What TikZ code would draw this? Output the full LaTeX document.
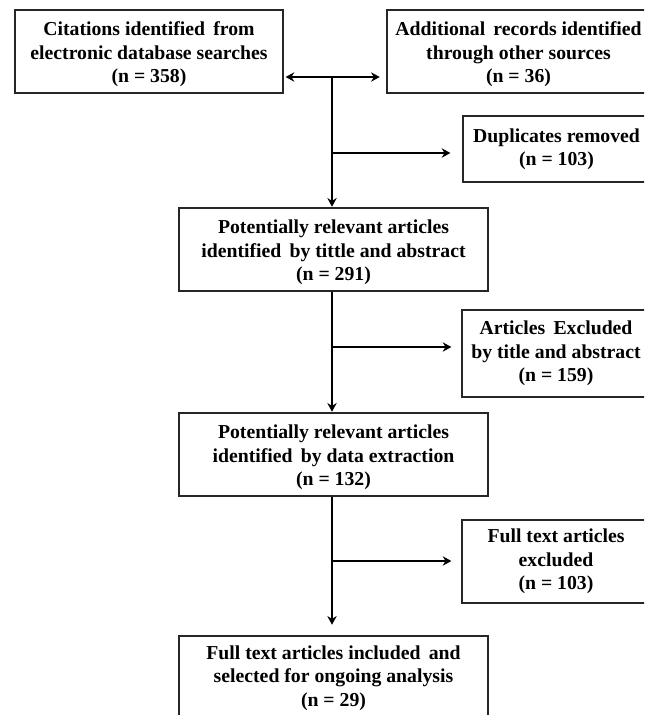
\documentclass[tikz,border=0pt]{standalone}
\usepackage{fontspec}
\setmainfont{Liberation Serif}
\usetikzlibrary{arrows.meta}
\newcommand{\myup}{\rule{0pt}{14.8pt}}
\begin{document}
\begin{tikzpicture}[x=0.75pt,y=-0.75pt,
  box/.style={draw=black!85, line width=0.9pt, inner sep=0pt, align=center,
    font=\fontsize{14.8}{17.6}\selectfont\bfseries},
  conn/.style={line width=2pt, black},
  arr/.style={conn, -{Stealth[length=6.5pt,width=7pt]}}]
\useasboundingbox (0,0) rectangle (644,715);
\clip (0,0) rectangle (644,715);
\node[box, minimum width=201pt, minimum height=62.25pt] (A) at (149,51.5)
  {\myup Citations identified\, from\\electronic database searches\\(n = 358)};
\node[box, minimum width=197.25pt, minimum height=62.25pt] (B) at (518.5,51.5)
  {\myup Additional\, records identified\\through other sources\\(n = 36)};
\node[box, minimum width=140.25pt, minimum height=49.5pt] (Dup) at (556.5,149)
  {Duplicates removed\\(n = 103)};
\node[box, minimum width=231.75pt, minimum height=62.25pt] (C) at (333.5,249.5)
  {\myup Potentially relevant articles\\identified\, by tittle and abstract\\(n = 291)};
\node[box, minimum width=141pt, minimum height=65.25pt] (X1) at (556,353.5)
  {Articles\, Excluded\\by title and abstract\\(n = 159)};
\node[box, minimum width=231.75pt, minimum height=62.25pt] (D) at (333.5,454.5)
  {\myup Potentially relevant articles\\identified\, by data extraction\\(n = 132)};
\node[box, minimum width=141pt, minimum height=62.25pt] (X2) at (556,561.5)
  {Full text articles\\excluded\\(n = 103)};
\node[box, minimum width=231.75pt, minimum height=63pt] (E) at (333.5,678)
  {Full text articles included\, and\\selected for ongoing analysis\\(n = 29)};
\coordinate (j1) at (332,77);
\coordinate (j2) at (332,153);
\coordinate (j3) at (332,347);
\coordinate (j4) at (332,561);
\draw[conn, {Stealth[length=6.5pt,width=7pt]}-{Stealth[length=6.5pt,width=7pt]}]
  ([xshift=1.5pt]A.east |- j1) -- ([xshift=-5pt]B.west |- j1);
\draw[arr] (j1) -- ([yshift=0.5pt]C.north -| j1);
\draw[arr] (j2) -- ([xshift=-9pt]Dup.west |- j2);
\draw[arr] (C.south -| j1) -- ([yshift=0.5pt]D.north -| j1);
\draw[arr] (j3) -- ([xshift=-7.5pt]X1.west |- j3);
\draw[arr] (D.south -| j1) -- ([yshift=8pt]E.north -| j1);
\draw[arr] (j4) -- ([xshift=-7.5pt]X2.west |- j4);
\end{tikzpicture}
\end{document}
